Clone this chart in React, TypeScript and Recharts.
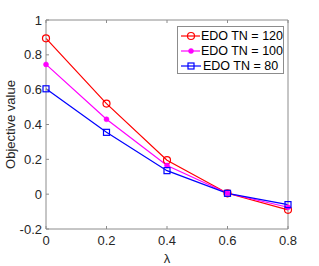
import React from 'react';
import { LineChart, Line, XAxis, YAxis, Label } from 'recharts';

const lambdas = [0, 0.2, 0.4, 0.6, 0.8];
const tn120 = [0.895, 0.52, 0.195, 0.005, -0.09];
const tn100 = [0.745, 0.43, 0.165, 0.005, -0.075];
const tn80 = [0.605, 0.355, 0.135, 0.005, -0.06];

const xTicks = [0, 0.2, 0.4, 0.6, 0.8];
const yTicks = [-0.2, 0, 0.2, 0.4, 0.6, 0.8, 1];

const seriesInfo = [
  { key: 'tn120', name: 'EDO TN = 120', color: '#ff0000', shape: 'circle' },
  { key: 'tn100', name: 'EDO TN = 100', color: '#ff00ff', shape: 'dot' },
  { key: 'tn80', name: 'EDO TN = 80', color: '#0000ff', shape: 'square' },
];

const data = lambdas.map((l, i) => ({
  lambda: l,
  tn120: tn120[i],
  tn100: tn100[i],
  tn80: tn80[i],
}));

const axisColor = '#8c8c8c';
const textColor = '#262626';
const font = 'Liberation Sans, Arial, sans-serif';

const Marker = ({ cx, cy, shape, color }: any) => {
  if (cx == null || cy == null) return null;
  if (shape === 'circle') {
    return <circle cx={cx} cy={cy} r={3.5} fill="none" stroke={color} strokeWidth={1.2} />;
  }
  if (shape === 'square') {
    return <rect x={cx - 3} y={cy - 3} width={6} height={6} fill="none" stroke={color} strokeWidth={1.2} />;
  }
  return <circle cx={cx} cy={cy} r={2.5} fill={color} stroke={color} strokeWidth={0.5} />;
};

// legend drawn outside the chart so it doesn't eat plot space
const LegendBox = () => (
  <div
    style={{
      position: 'absolute',
      left: 177,
      top: 26,
      boxSizing: 'border-box',
      border: `1px solid ${axisColor}`,
      background: '#fff',
      width: 107,
      height: 48,
      padding: '1px 0',
      fontFamily: font,
      fontSize: 12.5,
      color: '#000',
      whiteSpace: 'nowrap',
    }}
  >
    {seriesInfo.map((s) => (
      <div key={s.key} style={{ display: 'flex', alignItems: 'center', height: 15 }}>
        <svg width={22} height={12} style={{ marginLeft: 2, marginRight: 1 }}>
          <line x1={1} y1={6} x2={21} y2={6} stroke={s.color} strokeWidth={1.2} />
          <Marker cx={11} cy={6} shape={s.shape} color={s.color} />
        </svg>
        <span>{s.name}</span>
      </div>
    ))}
  </div>
);

const noTick = () => <g />;

export default function App() {
  return (
    <div style={{ position: 'absolute', left: 0, top: 0, width: 319, height: 266, background: '#fff' }}>
      <LineChart width={319} height={266} data={data} margin={{ top: 19, right: 30, bottom: 0, left: 0 }}>
        <XAxis
          xAxisId="top"
          orientation="top"
          type="number"
          dataKey="lambda"
          domain={[0, 0.8]}
          ticks={xTicks}
          height={1}
          tick={noTick}
          tickSize={-3}
          stroke={axisColor}
        />
        <YAxis
          yAxisId="right"
          orientation="right"
          type="number"
          domain={[-0.2, 1]}
          ticks={yTicks}
          width={1}
          tick={noTick}
          tickSize={-3}
          stroke={axisColor}
        />
        <XAxis
          type="number"
          dataKey="lambda"
          domain={[0, 0.8]}
          ticks={xTicks}
          height={37}
          tickSize={-3}
          tickMargin={10}
          stroke={axisColor}
          tick={{ fill: textColor, fontSize: 13, fontFamily: font }}
        >
          <Label value="λ" position="insideBottom" offset={0} dy={-3} fill={textColor} fontSize={13} fontFamily={font} />
        </XAxis>
        <YAxis
          type="number"
          domain={[-0.2, 1]}
          ticks={yTicks}
          width={46}
          tickSize={-3}
          tickMargin={7}
          stroke={axisColor}
          tick={{ fill: textColor, fontSize: 13, fontFamily: font }}
        >
          <Label
            value="Objective value"
            angle={-90}
            position="insideLeft"
            offset={10}
            style={{ textAnchor: 'middle' }}
            fill={textColor}
            fontSize={13}
            fontFamily={font}
          />
        </YAxis>
        {seriesInfo.map((s) => (
          <Line
            key={s.key}
            type="linear"
            dataKey={s.key}
            name={s.name}
            stroke={s.color}
            strokeWidth={1.2}
            dot={(p: any) => <Marker key={`${s.key}-${p.index}`} cx={p.cx} cy={p.cy} shape={s.shape} color={s.color} />}
            isAnimationActive={false}
          />
        ))}
      </LineChart>
      <LegendBox />
    </div>
  );
}
